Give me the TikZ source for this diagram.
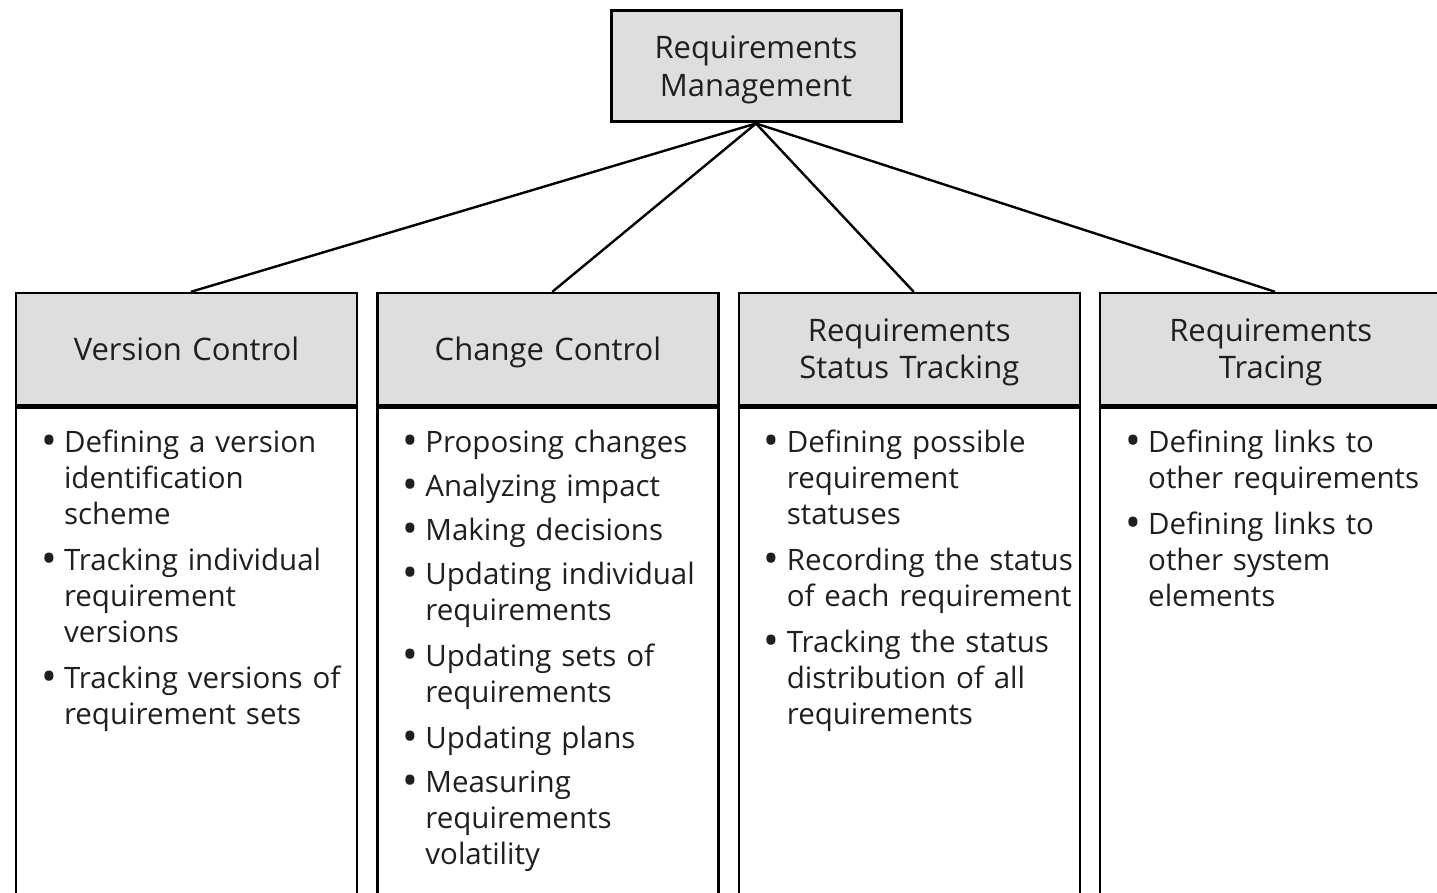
\documentclass[tikz,border=0pt]{standalone}
\usepackage{fontspec}
\setmainfont{Open Sans}
\usepackage{tikz}
\usetikzlibrary{positioning}
\newcommand{\bitem}[1]{\par\noindent\hspace*{6.5pt}\makebox[11.5pt][l]{\raisebox{-1.5pt}{\fontsize{21}{21}\selectfont\textbullet}}\parbox[t]{148pt}{\raggedright\hyphenpenalty=10000\strut#1\strut}\par\vspace{4pt}}
\tikzset{
  topbox/.style={draw, line width=1.5pt, fill=black!13, minimum width=145pt, text width=135pt, align=center, inner ysep=0pt, text height=23.75pt, text depth=31.75pt, font=\fontsize{15.5}{19}\selectfont},
  headbox/.style={draw, line width=1.2pt, fill=black!13, minimum width=170.5pt, text width=160pt, align=center, inner ysep=0pt, font=\fontsize{15.5}{18.5}\selectfont},
  oneline/.style={text height=34pt, text depth=22pt},
  twoline/.style={text height=24.25pt, text depth=31.75pt},
  bodybox/.style={draw, line width=1.2pt, text width=158.5pt, inner xsep=6pt, inner ysep=4.5pt, text depth=250pt, font=\fontsize{14.75}{18}\selectfont},
  link/.style={line width=1.2pt}
}
\begin{document}
\begin{tikzpicture}[text=black!88]
  \useasboundingbox (0,0) rectangle (718.5pt,-446.5pt);
  \node[topbox] (mgmt) at (378pt,-33.25pt) {Requirements\\Management};
  % the four practice areas
  \node[headbox, oneline] (version) at (93.25pt,-174.5pt) {Version Control};
  \node[headbox, oneline] (change) [right=9pt of version] {Change Control};
  \node[headbox, twoline] (status) [right=9pt of change] {Requirements\\Status Tracking};
  \node[headbox, twoline] (tracing) [right=9pt of status] {Requirements\\Tracing};
  \node[bodybox, anchor=north] (versionlist) at (version.south) {%
    \bitem{Defining a version\\identification\\scheme}
    \bitem{Tracking individual\\requirement\\versions}
    \bitem{Tracking versions of\\requirement sets}};
  \node[bodybox, anchor=north] (changelist) at (change.south) {%
    \bitem{Proposing changes}
    \bitem{Analyzing impact}
    \bitem{Making decisions}
    \bitem{Updating individual\\requirements}
    \bitem{Updating sets of\\requirements}
    \bitem{Updating plans}
    \bitem{Measuring\\requirements\\volatility}};
  \node[bodybox, anchor=north] (statuslist) at (status.south) {%
    \bitem{Defining possible\\requirement\\statuses}
    \bitem{Recording the status\\of each requirement}
    \bitem{Tracking the status\\distribution of all\\requirements}};
  \node[bodybox, anchor=north] (tracinglist) at (tracing.south) {%
    \bitem{Defining links to\\other requirements}
    \bitem{Defining links to\\other system\\elements}};
  \draw[link] (mgmt.south) -- ([xshift=2.2pt]version.north);
  \draw[link] (mgmt.south) -- ([xshift=2.2pt]change.north);
  \draw[link] (mgmt.south) -- ([xshift=2.2pt]status.north);
  \draw[link] (mgmt.south) -- ([xshift=2.2pt]tracing.north);
\end{tikzpicture}
\end{document}
